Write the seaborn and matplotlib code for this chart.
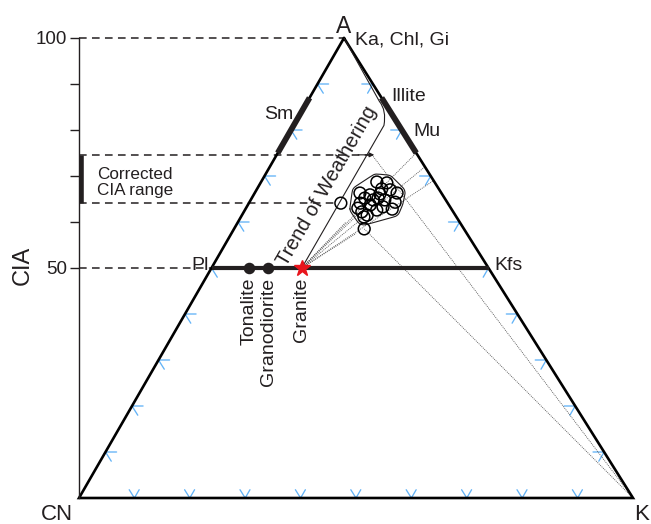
import numpy as np
import pandas as pd
import matplotlib
matplotlib.use("Agg")
import matplotlib.pyplot as plt
from matplotlib.path import Path
from matplotlib.patches import PathPatch
from matplotlib.transforms import ScaledTranslation, blended_transform_factory
import seaborn as sns

sns.set_theme(style="white")
plt.rcParams["font.family"] = ["Liberation Sans", "DejaVu Sans"]

# ---------------- data (molar %, CN = 100 - A - K) ----------------
sample_A = [68.7, 68.5, 67.2, 67.0, 66.3, 66.3, 65.2, 64.8, 64.8, 64.3, 64.1,
            63.7, 63.3, 62.8, 62.2, 61.5, 62.6, 61.1, 65.9, 65.2, 66.1, 63.0]
sample_K = [20.9, 22.8, 22.5, 24.1, 25.7, 19.0, 20.4, 22.1, 24.2, 26.3, 20.1,
            22.1, 24.6, 26.5, 21.3, 22.6, 23.8, 22.2, 21.0, 22.8, 22.7, 20.2]
outlier_A = [64.1, 58.5]
outlier_K = [16.6, 23.5]

rock_names = ["Tonalite", "Granodiorite", "Granite"]
rock_A = [50.0, 50.0, 50.0]
rock_K = [6.8, 10.2, 16.3]

cia_range = [64.1, 74.6]          # corrected CIA range
sm_A = [75.0, 87.0]               # smectite field on the A–CN join
illite_mu_A = [75.0, 87.0]        # illite–muscovite field on the A–K join
fan_targets_A = [75.0, 72.0, 69.0]  # weathering fan end points on the A–K join

cia_ticks = [50, 60, 70, 80, 90, 100]
cia_ticklabels = ["50", "", "", "", "", "100"]

# ---------------- ternary mapping ----------------
SKEW = 265.0 / 554.0


def tern(A, K):
    A = np.asarray(A, dtype=float)
    K = np.asarray(K, dtype=float)
    return K + SKEW * A, A


INK = "#231f20"
BLUE = "#63b3f7"

fig = plt.figure(figsize=(6.51, 5.24), dpi=100)
ax = fig.add_axes([0, 0, 1, 1])
ax.set_xlim(-79 / 5.54, (651 - 79) / 5.54)
ax.set_ylim(-26 / 4.6, 498 / 4.6)
ax.axis("off")

# triangle outline
tri_A = [100, 0, 0, 100]
tri_K = [0, 0, 100, 0]
tx, ty = tern(tri_A, tri_K)
ax.plot(tx, ty, color="black", lw=1.9, solid_joinstyle="miter", zorder=3)

# tick chevrons along the three edges
L = 2.0
Lb = 1.8
for t in range(10, 100, 10):
    # A–CN edge
    x, y = tern([t, t, t - L], [L, 0, L])
    ax.plot(x, y, color=BLUE, lw=0.95, zorder=2)
    # A–K edge
    x, y = tern([t, t, t - L], [100 - t - L, 100 - t, 100 - t])
    ax.plot(x, y, color=BLUE, lw=0.95, zorder=2)
    # CN–K edge
    x, y = tern([Lb, 0, Lb], [t - Lb, t, t])
    ax.plot(x, y, color=BLUE, lw=0.95, zorder=2)

# dashed guides to the CIA axis
dash = dict(color=INK, lw=1.1, dashes=(5, 3.5), zorder=2)
x, y = tern([100, 100], [-SKEW * 100, 0])
ax.plot(x, y, **dash)
x, y = tern([50, 50], [-SKEW * 50, 0])
ax.plot(x, y, **dash)
x, y = tern([cia_range[1], cia_range[1]], [-SKEW * cia_range[1], rock_K[2] + 0.9])
ax.plot(x, y, **dash)
ax.annotate("", xy=(x[1] + 0.4, y[1]), xytext=(x[1] - 2.5, y[1]),
            arrowprops=dict(arrowstyle="-|>", color=INK, lw=0.8,
                            mutation_scale=7, shrinkA=0, shrinkB=0), zorder=4)
x, y = tern([cia_range[0], cia_range[0]], [-SKEW * cia_range[0], outlier_K[0] - 0.9])
ax.plot(x, y, **dash)

# Pl–Kfs join
x, y = tern([50, 50], [0, 50])
ax.plot(x, y, color=INK, lw=3.0, solid_capstyle="butt", zorder=3)

# clay mineral fields
x, y = tern(sm_A, [0, 0])
ax.plot(x, y, color=INK, lw=4.2, solid_capstyle="butt", zorder=4)
x, y = tern(illite_mu_A, [100 - illite_mu_A[0], 100 - illite_mu_A[1]])
ax.plot(x, y, color=INK, lw=4.2, solid_capstyle="butt", zorder=4)

# thin dotted construction lines
dot = dict(color="#555555", lw=0.6, dashes=(1.2, 1.2), zorder=2)
for a in fan_targets_A:
    x, y = tern([rock_A[2], a], [rock_K[2], 100 - a])
    ax.plot(x, y, **dot)
for a, k in zip([62.0, 60.0, 57.5], [21.0, 19.5, 22.5]):
    x, y = tern([rock_A[2], a], [rock_K[2], k])
    ax.plot(x, y, **dot)
x, y = tern([cia_range[1], 0], [rock_K[2] + 0.9, 100])
ax.plot(x, y, **dot)
x, y = tern([outlier_A[1], 0], [outlier_K[1], 100])
ax.plot(x, y, **dot)

# weathering trend bracket
p_lo = tern(rock_A[2], rock_K[2])
p_b1 = tern(81.0, rock_K[2])
p_c = tern(84.3, 15.2)
p_b2 = tern(86.2, 13.0)
p_top = tern(100, 0)
verts = [p_lo, p_b1, p_c, p_b2, p_top]
codes = [Path.MOVETO, Path.LINETO, Path.CURVE3, Path.CURVE3, Path.LINETO]
ax.add_patch(PathPatch(Path([tuple(map(float, v)) for v in verts], codes),
                       fill=False, color=INK, lw=0.8, zorder=3))

# samples
df = pd.DataFrame({"A": sample_A + outlier_A, "K": sample_K + outlier_K})
df["x"], df["y"] = tern(df["A"], df["K"])
sns.scatterplot(data=df, x="x", y="y", ax=ax, s=72, marker="o",
                facecolor="none", edgecolor="black", linewidth=1.1, zorder=5,
                legend=False)

# envelope around the sample cluster (computed in pixel space)
pts = ax.transData.transform(np.column_stack(tern(sample_A, sample_K)))


def convex_hull(p):
    p = sorted(map(tuple, p))

    def cross(o, a, b):
        return (a[0] - o[0]) * (b[1] - o[1]) - (a[1] - o[1]) * (b[0] - o[0])
    lower, upper = [], []
    for q in p:
        while len(lower) >= 2 and cross(lower[-2], lower[-1], q) <= 0:
            lower.pop()
        lower.append(q)
    for q in reversed(p):
        while len(upper) >= 2 and cross(upper[-2], upper[-1], q) <= 0:
            upper.pop()
        upper.append(q)
    return np.array(lower[:-1] + upper[:-1])


hull = convex_hull(pts)
ring = []
for p1 in hull:
    for ang in np.linspace(0, 2 * np.pi, 24, endpoint=False):
        ring.append(p1 + 8.0 * np.array([np.cos(ang), np.sin(ang)]))
env = convex_hull(np.array(ring))
for _ in range(2):
    nxt = []
    for i in range(len(env)):
        a, b = env[i], env[(i + 1) % len(env)]
        nxt += [0.75 * a + 0.25 * b, 0.25 * a + 0.75 * b]
    env = np.array(nxt)
env = np.vstack([env, env[:1]])
env_data = ax.transData.inverted().transform(env)
ax.plot(env_data[:, 0], env_data[:, 1], color=INK, lw=0.8, zorder=4)

# parent rocks
rx, ry = tern(rock_A, rock_K)
ax.plot(rx[:2], ry[:2], "o", ms=7.3, color=INK, zorder=6)
ax.plot(rx[2], ry[2], "*", ms=12, color="#e8141c", mec="#e8141c", zorder=7)
for name, xx in zip(rock_names, rx):
    ax.annotate(name, (xx, 50), xytext=(0, -7), textcoords="offset points",
                rotation=90, ha="center", va="top", fontsize=14, color=INK)

# labels
txt = dict(color=INK, textcoords="offset points")
ax.annotate("A", tern(100, 0), xytext=(0, 3.6), ha="center", va="baseline",
            fontsize=16.5, **txt)
ax.annotate("CN", tern(0, 0), xytext=(-16, -15.5), ha="center", va="baseline",
            fontsize=16, **txt)
ax.annotate("K", tern(0, 100), xytext=(6.5, -15.5), ha="center", va="baseline",
            fontsize=16, **txt)
ax.annotate("Ka, Chl, Gi", tern(100, 0), xytext=(8, -1.5), ha="left",
            va="center", fontsize=14, **txt)
ax.annotate("Illite", tern(illite_mu_A[1], 100 - illite_mu_A[1]), xytext=(7, 1),
            ha="left", va="center", fontsize=14, **txt)
ax.annotate("Mu", tern(illite_mu_A[0], 100 - illite_mu_A[0]), xytext=(-2.3, 15.8),
            ha="left", va="center", fontsize=14, **txt)
ax.annotate("Sm", tern(82.5, 0), xytext=(-3, 3), ha="right", va="center",
            fontsize=14, **txt)
ax.annotate("Pl", tern(50, 0), xytext=(-2, 1.5), ha="right", va="center",
            fontsize=14, **txt)
ax.annotate("Kfs", tern(50, 50), xytext=(4, 1.5), ha="left", va="center",
            fontsize=14, **txt)
ax.annotate("Corrected\nCIA range", tern(cia_range[1], -SKEW * cia_range[1]),
            xytext=(13, -8.5), ha="left", va="top", fontsize=12.3,
            linespacing=1.1, **txt)
ax.annotate("Trend of Weathering", tern(67.8, 12.4), rotation=60,
            rotation_mode="anchor", ha="center", va="center", fontsize=14.3,
            color=INK)

# CIA axis
ax2 = fig.add_axes([79 / 651, 26 / 524, 0.0015, 460 / 524])
ax2.patch.set_visible(False)
ax2.set_ylim(0, 100)
ax2.set_xticks([])
for side in ("top", "right", "bottom"):
    ax2.spines[side].set_visible(False)
ax2.spines["left"].set_linewidth(1.0)
ax2.spines["left"].set_color(INK)
ax2.set_yticks(cia_ticks)
ax2.set_yticklabels(cia_ticklabels)
ax2.tick_params(axis="y", left=True, direction="out", length=6.5, width=1.0,
                color=INK, labelsize=13.5, labelcolor=INK, pad=2)
ax2.set_ylabel("CIA", fontsize=17, color=INK)
ax2.yaxis.set_label_coords(34 / 651, 1 - 265 / 524, transform=fig.transFigure)

# corrected CIA bar on the axis
bar_tr = blended_transform_factory(ax2.transAxes, ax2.transData) + \
    ScaledTranslation(2.2 / 100, 0, fig.dpi_scale_trans)
ax2.plot([0, 0], cia_range, color=INK, lw=3.3, solid_capstyle="butt",
         clip_on=False, transform=bar_tr)

fig.savefig("out.png", dpi=100)
